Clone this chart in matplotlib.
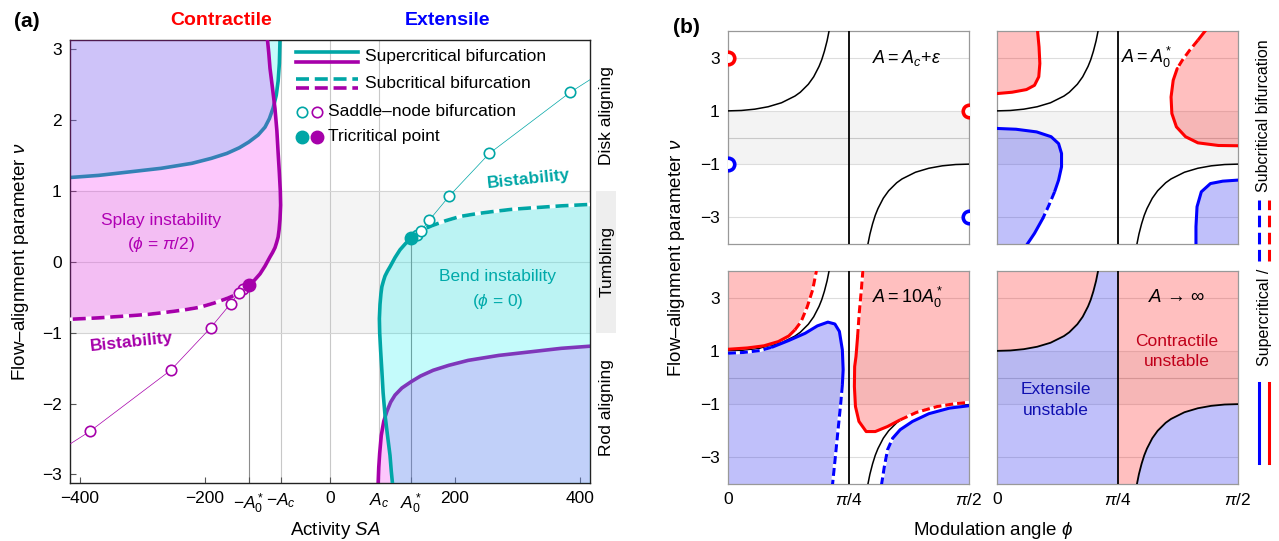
import numpy as np
import matplotlib
matplotlib.use("Agg")
import matplotlib.pyplot as plt
from matplotlib.lines import Line2D
from matplotlib.patches import Rectangle

plt.rcParams["font.family"] = ["Liberation Sans", "DejaVu Sans"]
plt.rcParams["mathtext.fontset"] = "custom"
plt.rcParams["mathtext.rm"] = "Liberation Sans"
plt.rcParams["mathtext.it"] = "Liberation Sans:italic"
plt.rcParams["mathtext.bf"] = "Liberation Sans:bold"
plt.rcParams["mathtext.fallback"] = "stixsans"

TEAL = "#00a6a6"
PURPLE = "#a600aa"
RED = "#ff0000"
BLUE = "#0000ff"

# ---------------- panel (a) data: activity SA vs flow-alignment nu ----------------
A_C = 79
A_0 = 130
a_xticks = [-400, -200, -A_0, -A_C, 0, A_C, A_0, 200, 400]
a_xticklabels = ["\u2212400", "\u2212200", r"$-A_0^*$", r"$-A_c$", "0", r"$A_c$", r"$A_0^*$", "200", "400"]
a_yticks = [-3, -2, -1, 0, 1, 2, 3]

# bend instability boundary (teal), supercritical part and subcritical part
teal_right_A = [100, 98, 96, 92, 88, 85, 83, 81, 79.5, 79, 80, 81.5, 83, 85.5, 88, 92, 96, 104, 112, 121, 130]
teal_right_nu = [-3.13, -2.95, -2.73, -2.45, -2.16, -1.85, -1.54, -1.25, -1.0, -0.8, -0.6, -0.45,
                 -0.35, -0.27, -0.2, -0.13, -0.07, 0.06, 0.17, 0.26, 0.33]
teal_dash_A = [130, 140, 150, 163, 185, 208, 235, 261, 290, 320, 370, 416]
teal_dash_nu = [0.33, 0.41, 0.46, 0.51, 0.58, 0.64, 0.68, 0.71, 0.74, 0.76, 0.79, 0.81]
teal_left_A = [-416, -370, -320, -270, -221, -190, -165, -145, -130, -115, -104, -97, -91, -86, -83, -81, -80]
teal_left_nu = [1.19, 1.22, 1.27, 1.32, 1.39, 1.46, 1.53, 1.61, 1.69, 1.79, 1.90, 2.02, 2.17, 2.35, 2.55,
                2.80, 3.13]

# splay instability boundary (purple)
purple_left_A = [-100, -98, -96, -92, -88, -85, -83, -81, -79.5, -79, -80, -81.5, -83, -85.5, -88, -92, -96,
                 -104, -112, -121, -130]
purple_left_nu = [3.13, 2.95, 2.73, 2.45, 2.16, 1.85, 1.54, 1.25, 1.0, 0.8, 0.6, 0.45, 0.35, 0.27, 0.2,
                  0.13, 0.07, -0.06, -0.17, -0.26, -0.33]
purple_dash_A = [-130, -140, -150, -163, -185, -208, -235, -261, -290, -320, -370, -416]
purple_dash_nu = [-0.33, -0.41, -0.46, -0.51, -0.58, -0.64, -0.68, -0.71, -0.74, -0.76, -0.79, -0.81]
purple_right_A = [77, 78, 79.5, 82, 86, 91, 97, 104, 115, 130, 145, 165, 190, 221, 270, 320, 370, 416]
purple_right_nu = [-3.13, -2.90, -2.70, -2.45, -2.25, -2.11, -1.98, -1.88, -1.78, -1.69, -1.61, -1.53,
                   -1.46, -1.39, -1.32, -1.27, -1.22, -1.19]

# saddle-node bifurcation points and tricritical points
sn_teal_A = [139, 146, 159, 191, 255, 384]
sn_teal_nu = [0.38, 0.44, 0.59, 0.93, 1.53, 2.39]
sn_purple_A = [-139, -146, -159, -191, -255, -384]
sn_purple_nu = [-0.38, -0.44, -0.59, -0.93, -1.53, -2.39]
sn_line_teal_A = [130, 139, 146, 159, 191, 255, 384, 416]
sn_line_teal_nu = [0.33, 0.38, 0.44, 0.59, 0.93, 1.53, 2.39, 2.57]
sn_line_purple_A = [-130, -139, -146, -159, -191, -255, -384, -416]
sn_line_purple_nu = [-0.33, -0.38, -0.44, -0.59, -0.93, -1.53, -2.39, -2.57]
tri_A = [130, -130]
tri_nu = [0.33, -0.33]

A_LIM = (-416, 416)
NU_LIM = (-3.12, 3.13)

# ---------------- panel (b) data: modulation angle phi (degrees) vs nu ----------------
# flow-aligning boundary (black)
sec_phi_up = [0, 5, 10, 15, 20, 25, 27, 30, 32, 34, 35, 36, 37, 38]
sec_nu_up = [1.00, 1.015, 1.064, 1.155, 1.305, 1.556, 1.70, 2.00, 2.28, 2.67, 2.92, 3.24, 3.63, 4.13]
sec_phi_lo = [52, 53, 54, 55, 56, 58, 60, 63, 65, 70, 75, 80, 85, 90]
sec_nu_lo = [-4.13, -3.63, -3.24, -2.92, -2.67, -2.28, -2.00, -1.70, -1.556, -1.305, -1.155, -1.064, -1.015, -1.00]

# A = A_c + eps: onset points
tl_red_phi = [0, 90]
tl_red_nu = [3, 1]
tl_blue_phi = [0, 90]
tl_blue_nu = [-1, -3]

# A = A_0^*
tr_red_left_phi = [0, 5.6, 11, 14, 15.6, 16, 15.7, 15.1]
tr_red_left_nu = [1.65, 1.70, 1.80, 1.96, 2.28, 2.78, 3.40, 4.05]
tr_red_right_phi = [78.1, 75, 71.9, 69.2, 67.3, 65.8, 65, 65.3, 67, 70.4, 75, 82.7, 90]
tr_red_right_nu = [4.05, 3.65, 3.27, 2.90, 2.59, 2.15, 1.52, 0.90, 0.40, 0.03, -0.20, -0.30, -0.31]
tr_blue_left_phi = [0, 7.1, 14.8, 20.2, 23, 24.1, 24.1, 23, 21.5, 19.4, 17.1, 14, 11]
tr_blue_left_nu = [0.34, 0.31, 0.21, 0.03, -0.23, -0.60, -1.10, -1.60, -2.04, -2.54, -3.04, -3.60, -4.05]
tr_blue_right_phi = [74.3, 74.3, 74.7, 76.3, 79.7, 84.3, 90]
tr_blue_right_nu = [-4.05, -3.35, -2.60, -2.04, -1.73, -1.64, -1.60]

# A = 10 A_0^*
bl_red_left_phi = [0, 7.2, 13.4, 18.8, 22.7, 25, 27.3, 29.6, 31.6, 33.1]
bl_red_left_nu = [1.06, 1.11, 1.19, 1.35, 1.56, 1.79, 2.10, 2.66, 3.29, 4.05]
bl_blue_left_phi = [0, 5.7, 11.9, 16.5, 22.7, 28.8, 33.4, 37.3, 39.9, 41.6, 42.7, 43, 42.7, 42.1, 41.1, 40.1, 39]
bl_blue_left_nu = [0.91, 0.94, 1.01, 1.14, 1.39, 1.66, 1.94, 2.08, 2.01, 1.73, 1.04, 0.29, -0.28, -0.96, -1.96, -2.96, -4.05]
bl_red_right_phi = [50.4, 49.8, 49, 48.4, 47.8, 47.3, 47.2, 47.6, 48.9, 51.6, 55, 59.6, 64.3, 70.4, 78.1, 84.3, 90]
bl_red_right_nu = [4.05, 3.29, 2.41, 1.54, 0.79, 0.41, -0.34, -1.09, -1.65, -2.03, -2.03, -1.84, -1.59, -1.31, -1.09, -0.99, -0.93]
bl_blue_right_phi = [57.3, 58.4, 59.6, 61.5, 64.3, 68.9, 75, 82.7, 90]
bl_blue_right_nu = [-4.05, -3.34, -2.71, -2.28, -1.96, -1.65, -1.36, -1.15, -1.06]

PHI_LIM = (0, 90)
NUB_LIM = (-4, 4)


def dashed_line(ax, x, y, color, lw, dashes, z):
    # white underlay so the gaps of the dashes show as white
    ax.plot(x, y, color="white", lw=lw, zorder=z, solid_capstyle="butt")
    ax.plot(x, y, color=color, lw=lw, dashes=dashes, zorder=z + 0.01, dash_capstyle="butt")


def styled_curve(ax, x, y, color, dash_ranges=(), lw=2.2, dashes=(2.6, 1.3), z=5):
    x = np.asarray(x, float)
    y = np.asarray(y, float)
    cuts = sorted({0, len(x) - 1} | {i for r in dash_ranges for i in r})
    for a, b in zip(cuts[:-1], cuts[1:]):
        xs, ys = x[a:b + 1], y[a:b + 1]
        if any(r[0] <= a and b <= r[1] for r in dash_ranges):
            dashed_line(ax, xs, ys, color, lw, dashes, z)
        else:
            ax.plot(xs, ys, color=color, lw=lw, zorder=z, solid_capstyle="round")


def fill_region(ax, x, y, corner, color, alpha, z=2):
    ax.fill(np.r_[x, corner[0]], np.r_[y, corner[1]], color=color, alpha=alpha, lw=0, zorder=z)


fig = plt.figure(figsize=(12.79, 5.41), dpi=100)

# =============================== panel (a) ===============================
ax = fig.add_axes([70 / 1279, 58 / 541, 520 / 1279, 443 / 541])
ax.set_xlim(*A_LIM)
ax.set_ylim(*NU_LIM)
ax.axhspan(-1, 1, color="#f4f4f4", lw=0, zorder=0)
for v in [-A_C, 0, A_C]:
    ax.axvline(v, color="#c8c8c8", lw=0.8, zorder=1)
for h in [-1, 0, 1]:
    ax.axhline(h, color="#d4d4d4", lw=0.8, zorder=1)
ax.vlines(tri_A, [NU_LIM[0], NU_LIM[0]], tri_nu, color="#8c8c8c", lw=0.8, zorder=1)

CYAN_F, CYAN_A = "#00f0f0", 0.23
PINK_F, PINK_A = "#f200f2", 0.22
ex = A_LIM[1] + 5
ey = NU_LIM[1] + 0.1
# regions drawn under the crossing curves
fill_region(ax, purple_right_A, purple_right_nu, ([ex], [-ey]), PINK_F, PINK_A, z=2.2)
fill_region(ax, teal_left_A, teal_left_nu, ([-ex], [ey]), CYAN_F, CYAN_A, z=2.2)
ax.plot(teal_left_A, teal_left_nu, color=TEAL, lw=2.6, zorder=2.5)
ax.plot(purple_right_A, purple_right_nu, color=PURPLE, lw=2.6, zorder=2.5)
# regions drawn over them
fill_region(ax, teal_right_A + teal_dash_A[1:], teal_right_nu + teal_dash_nu[1:],
            ([ex], [-ey]), CYAN_F, CYAN_A, z=3)
fill_region(ax, purple_left_A + purple_dash_A[1:], purple_left_nu + purple_dash_nu[1:],
            ([-ex], [ey]), PINK_F, PINK_A, z=3)

ax.plot(teal_right_A, teal_right_nu, color=TEAL, lw=2.6, zorder=4)
ax.plot(purple_left_A, purple_left_nu, color=PURPLE, lw=2.6, zorder=4)
dashed_line(ax, teal_dash_A, teal_dash_nu, TEAL, 2.6, (3.6, 1.6), 4)
dashed_line(ax, purple_dash_A, purple_dash_nu, PURPLE, 2.6, (3.6, 1.6), 4)

ax.plot(sn_line_teal_A, sn_line_teal_nu, color=TEAL, lw=0.5, zorder=4.5)
ax.plot(sn_line_purple_A, sn_line_purple_nu, color=PURPLE, lw=0.5, zorder=4.5)
ax.plot(sn_teal_A, sn_teal_nu, "o", ms=7.5, mfc="white", mec=TEAL, mew=1.2, zorder=5)
ax.plot(sn_purple_A, sn_purple_nu, "o", ms=7.5, mfc="white", mec=PURPLE, mew=1.2, zorder=5)
ax.plot(tri_A[0], tri_nu[0], "o", ms=9, color=TEAL, zorder=6)
ax.plot(tri_A[1], tri_nu[1], "o", ms=9, color=PURPLE, zorder=6)

ax.set_xticks(a_xticks)
ax.set_xticklabels(a_xticklabels)
ax.set_yticks(a_yticks)
ax.tick_params(direction="in", length=4, width=0.8, color="#555555", labelsize=12.5, pad=6)
for s in ax.spines.values():
    s.set_color("#222222")
    s.set_linewidth(1.0)

ax.text(-270, 0.59, "Splay instability", color="#b000b4", fontsize=12.5, ha="center", va="center", zorder=7)
ax.text(-270, 0.24, r"($\phi$ = $\pi$/2)", color="#b000b4", fontsize=12.5, ha="center", va="center", zorder=7)
ax.text(268, -0.21, "Bend instability", color="#00aaaa", fontsize=12.5, ha="center", va="center", zorder=7)
ax.text(268, -0.56, r"($\phi$ = 0)", color="#00aaaa", fontsize=12.5, ha="center", va="center", zorder=7)
ax.text(318, 1.16, "Bistability", color=TEAL, fontsize=12.5, fontweight="bold", ha="center",
        va="center", rotation=6, zorder=7)
ax.text(-318, -1.13, "Bistability", color=PURPLE, fontsize=12.5, fontweight="bold", ha="center",
        va="center", rotation=6, zorder=7)

# legend (axes fraction coordinates)
T = ax.transAxes
ax.add_line(Line2D([0.435, 0.553], [0.973, 0.973], color=TEAL, lw=2.6, transform=T, zorder=8))
ax.add_line(Line2D([0.435, 0.553], [0.950, 0.950], color=PURPLE, lw=2.6, transform=T, zorder=8))
ax.add_line(Line2D([0.435, 0.553], [0.912, 0.912], color=TEAL, lw=2.6, dashes=(3.6, 1.6), transform=T, zorder=8))
ax.add_line(Line2D([0.435, 0.553], [0.891, 0.891], color=PURPLE, lw=2.6, dashes=(3.6, 1.6), transform=T, zorder=8))
ax.add_line(Line2D([0.447], [0.838], marker="o", ms=7.5, mfc="white", mec=TEAL, mew=1.2, transform=T, zorder=8))
ax.add_line(Line2D([0.475], [0.838], marker="o", ms=7.5, mfc="white", mec=PURPLE, mew=1.2, transform=T, zorder=8))
ax.add_line(Line2D([0.447], [0.782], marker="o", ms=9, color=TEAL, transform=T, zorder=8))
ax.add_line(Line2D([0.475], [0.782], marker="o", ms=9, color=PURPLE, transform=T, zorder=8))
leg_kw = dict(transform=T, fontsize=12.5, va="center", ha="left", zorder=8)
ax.text(0.568, 0.962, "Supercritical bifurcation", **leg_kw)
ax.text(0.568, 0.901, "Subcritical bifurcation", **leg_kw)
ax.text(0.497, 0.838, "Saddle\u2013node bifurcation", **leg_kw)
ax.text(0.497, 0.782, "Tricritical point", **leg_kw)

# aligning regimes on the right
yt = ax.get_yaxis_transform()
ax.add_patch(Rectangle((1.012, -1), 0.038, 2, transform=yt, color="#eeeeee", lw=0, clip_on=False))
for label, yc in [("Disk aligning", 2.06), ("Tumbling", 0.0), ("Rod aligning", -2.06)]:
    ax.text(1.032, yc, label, transform=yt, rotation=90, ha="center", va="center", fontsize=12.5)

fig.text(0.173, 0.963, "Contractile", color="#ff0000", fontsize=14, fontweight="bold", ha="center", va="center")
fig.text(0.350, 0.963, "Extensile", color="#0000ff", fontsize=14, fontweight="bold", ha="center", va="center")
fig.text(0.021, 0.96, "(a)", fontsize=15, fontweight="bold", ha="center", va="center")
fig.text(0.262, 0.02, r"Activity $SA$", fontsize=13.5, ha="center", va="center")
fig.text(0.016, 0.516, "Flow\u2013alignment parameter $\\nu$", fontsize=13.5, rotation=90, ha="center", va="center")

# =============================== panel (b) ===============================
W, H = 1279, 541
bx = [728, 997]
by = [541 - 244, 541 - 484]
bw, bh = 241, 213
axes_b = {}
for r in range(2):
    for c in range(2):
        a = fig.add_axes([bx[c] / W, by[r] / H, bw / W, bh / H])
        a.set_xlim(*PHI_LIM)
        a.set_ylim(*NUB_LIM)
        a.axhspan(-1, 1, color="#f3f3f3", lw=0, zorder=0)
        for h in [-3, -1, 0, 1, 3]:
            a.axhline(h, color="#dddddd" if h else "#c8c8c8", lw=0.8, zorder=0.5)
        a.set_xticks([0, 45, 90])
        a.set_yticks([-3, -1, 1, 3])
        if r == 1:
            a.set_xticklabels(["0", r"$\pi/4$", r"$\pi/2$"])
        else:
            a.set_xticklabels([])
        if c == 0:
            a.set_yticklabels(["\u22123", "\u22121", "1", "3"])
        else:
            a.set_yticklabels([])
        a.tick_params(length=0, labelsize=12.5, pad=6)
        for s in a.spines.values():
            s.set_color("#999999")
            s.set_linewidth(0.9)
        a.axvline(45, color="black", lw=1.3, zorder=6)
        axes_b[(r, c)] = a

RED_F, RED_A = "#ff0000", 0.25
BLUE_F, BLUE_A = "#2020ee", 0.28
TOPV, BOTV = 4.1, -4.1


def black_curves(a, lw=1.1):
    a.plot(sec_phi_up, sec_nu_up, color="black", lw=lw, zorder=5)
    a.plot(sec_phi_lo, sec_nu_lo, color="black", lw=lw, zorder=5)


# A = A_c + eps
a = axes_b[(0, 0)]
black_curves(a)
a.plot(tl_red_phi, tl_red_nu, "o", ms=9, mfc="white", mec=RED, mew=2.6, zorder=7, clip_on=True)
a.plot(tl_blue_phi, tl_blue_nu, "o", ms=9, mfc="white", mec=BLUE, mew=2.6, zorder=7, clip_on=True)
a.text(67, 3.0, r"$A = A_c\!+\!\epsilon$", fontsize=13, ha="center", va="center", zorder=8)

# A = A_0^*
a = axes_b[(0, 1)]
fill_region(a, tr_red_left_phi, tr_red_left_nu, ([0], [TOPV]), RED_F, RED_A)
fill_region(a, tr_red_right_phi, tr_red_right_nu, ([90], [TOPV]), RED_F, RED_A)
fill_region(a, tr_blue_left_phi, tr_blue_left_nu, ([0], [BOTV]), BLUE_F, BLUE_A)
fill_region(a, tr_blue_right_phi, tr_blue_right_nu, ([90], [BOTV]), BLUE_F, BLUE_A)
black_curves(a)
styled_curve(a, tr_red_left_phi, tr_red_left_nu, RED)
styled_curve(a, tr_red_right_phi, tr_red_right_nu, RED, [(1, 4)])
styled_curve(a, tr_blue_left_phi, tr_blue_left_nu, BLUE, [(8, 10)])
styled_curve(a, tr_blue_right_phi, tr_blue_right_nu, BLUE)
a.text(56, 3.0, r"$A = A_0^*$", fontsize=13, ha="center", va="center", zorder=8)

# A = 10 A_0^*
a = axes_b[(1, 0)]
fill_region(a, bl_red_left_phi, bl_red_left_nu, ([0], [TOPV]), RED_F, RED_A)
fill_region(a, bl_blue_left_phi, bl_blue_left_nu, ([0], [BOTV]), BLUE_F, BLUE_A)
fill_region(a, bl_red_right_phi, bl_red_right_nu, ([90], [TOPV]), RED_F, RED_A)
fill_region(a, bl_blue_right_phi, bl_blue_right_nu, ([90], [BOTV]), BLUE_F, BLUE_A)
black_curves(a)
styled_curve(a, bl_red_left_phi, bl_red_left_nu, RED, [(5, 9)])
styled_curve(a, bl_blue_left_phi, bl_blue_left_nu, BLUE, [(0, 3), (12, 16)])
styled_curve(a, bl_red_right_phi, bl_red_right_nu, RED, [(0, 3), (12, 16)])
styled_curve(a, bl_blue_right_phi, bl_blue_right_nu, BLUE, [(0, 3)])
a.text(67, 3.0, r"$A = 10A_0^*$", fontsize=13, ha="center", va="center", zorder=8)

# A -> infinity
a = axes_b[(1, 1)]
fill_region(a, sec_phi_up, sec_nu_up, ([0], [TOPV]), RED_F, RED_A)
fill_region(a, sec_phi_up, sec_nu_up, ([45, 45, 0], [TOPV, BOTV, BOTV]), BLUE_F, BLUE_A)
fill_region(a, sec_phi_lo, sec_nu_lo, ([90, 45, 45], [TOPV, TOPV, BOTV]), RED_F, RED_A)
fill_region(a, sec_phi_lo, sec_nu_lo, ([90], [BOTV]), BLUE_F, BLUE_A)
black_curves(a, lw=1.3)
a.text(67, 3.0, "$A$ \u2192 \u221e", fontsize=13.5, ha="center", va="center", zorder=8)
a.text(67, 0.98, "Contractile\nunstable", color="#c0001a", fontsize=12.5, ha="center", va="center",
       linespacing=1.45, zorder=8)
a.text(22, -0.84, "Extensile\nunstable", color="#1010b0", fontsize=12.5, ha="center", va="center",
       linespacing=1.45, zorder=8)

fig.text(0.537, 0.95, "(b)", fontsize=15, fontweight="bold", ha="center", va="center")
fig.text(0.529, 0.524, "Flow\u2013alignment parameter $\\nu$", fontsize=13.5, rotation=90, ha="center", va="center")
fig.text(0.776, 0.02, r"Modulation angle $\phi$", fontsize=13.5, ha="center", va="center")

# vertical legend for panel (b)
F = fig.transFigure
for xl, col in [(1259 / W, BLUE), (1269 / W, RED)]:
    fig.add_artist(Line2D([xl, xl], [0.144, 0.292], color=col, lw=2.2, transform=F))
    fig.add_artist(Line2D([xl, xl], [0.518, 0.630], color=col, lw=2.2, dashes=(3.8, 1.8), transform=F))
fig.text(1264 / W, 0.414, "Supercritical /", rotation=90, fontsize=11.5, ha="center", va="center")
fig.text(1264 / W, 0.786, "Subcritical bifurcation", rotation=90, fontsize=11.5, ha="center", va="center")

fig.savefig("out.png", dpi=100)
